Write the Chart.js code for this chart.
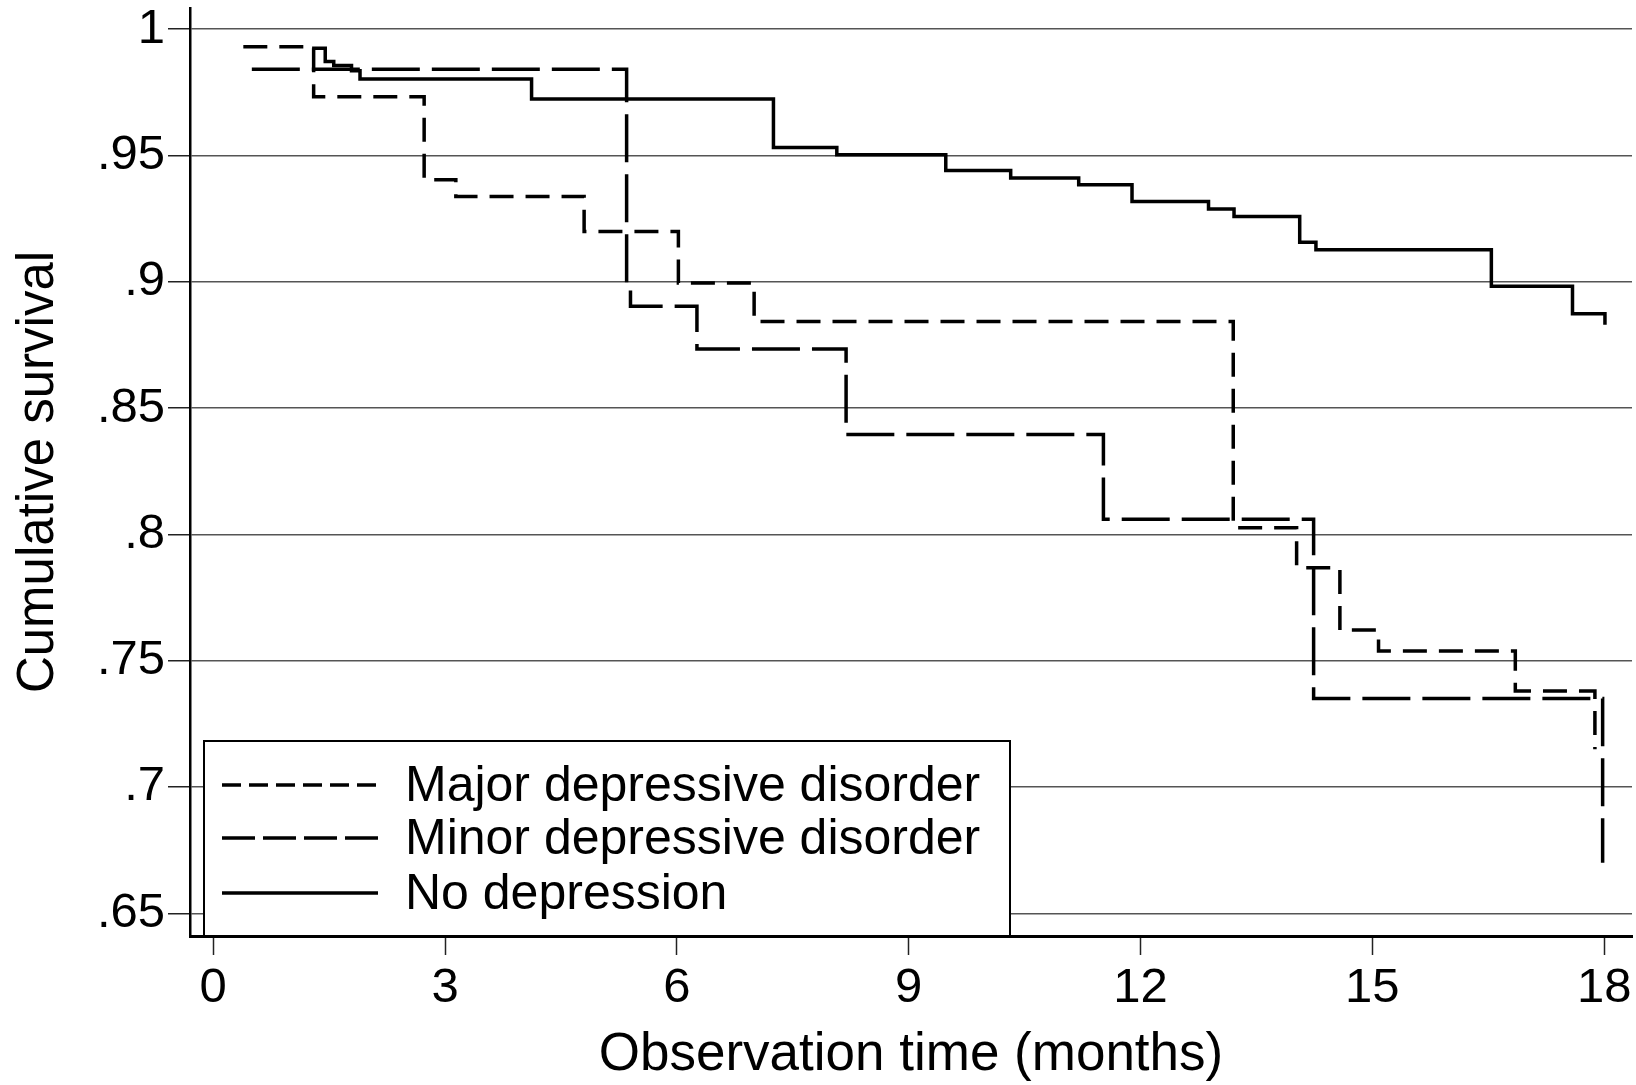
<!DOCTYPE html>
<html>
<head>
<meta charset="utf-8">
<script src="https://cdn.jsdelivr.net/npm/chart.js@4.4.1/dist/chart.umd.min.js"></script>
<style>
  html, body { margin: 0; padding: 0; background: #fff; }
</style>
</head>
<body>
<canvas id="km" width="1636" height="1085"></canvas>
<script>
var seriesNames = ['Major depressive disorder', 'Minor depressive disorder', 'No depression'];

// Kaplan-Meier steps: time (months) and survival after each drop
var majorTime = [0.39, 1.30, 2.73, 3.14, 4.80, 6.02, 7.00, 13.20, 14.02, 14.58, 15.08, 16.85, 17.88];
var majorSurv = [0.9931, 0.9733, 0.9404, 0.9338, 0.9199, 0.8995, 0.8843, 0.8026, 0.7868, 0.7621, 0.7538, 0.7380, 0.7149];

var minorTime = [0.50, 5.35, 5.40, 6.26, 8.19, 11.52, 14.24, 17.98];
var minorSurv = [0.9842, 0.8984, 0.8903, 0.8734, 0.8395, 0.8060, 0.7350, 0.6700];

var noneTime = [1.28, 1.45, 1.56, 1.79, 1.90, 4.12, 7.25, 8.07, 9.48, 10.32, 11.20, 11.89, 12.88, 13.21, 14.06, 14.27, 16.54, 17.59, 18.01];
var noneSurv = [0.9925, 0.9872, 0.9856, 0.9836, 0.9803, 0.9724, 0.9532, 0.9503, 0.9441, 0.9411, 0.9384, 0.9318, 0.9288, 0.9259, 0.9157, 0.9127, 0.8982, 0.8874, 0.8830];

var xTicks = [0, 3, 6, 9, 12, 15, 18];
var yTicks = [0.65, 0.7, 0.75, 0.8, 0.85, 0.9, 0.95, 1];
var yTickLabels = ['.65', '.7', '.75', '.8', '.85', '.9', '.95', '1'];

function pts(t, s) {
  var out = [];
  for (var i in t) out.push({x: t[i], y: s[i]});
  return out;
}

Chart.defaults.font.family = "'Liberation Sans', Arial, Helvetica, sans-serif";
Chart.defaults.color = '#000';

// legend drawn as a framed box inside the plot, bottom left
var boxLegend = {
  id: 'boxLegend',
  afterDatasetsDraw: function(chart) {
    var ctx = chart.ctx, area = chart.chartArea;
    var left = area.left + 14, w = 806, h = 195;
    var top = area.bottom - h;
    ctx.save();
    ctx.fillStyle = '#fff';
    ctx.fillRect(left, top, w, h);
    ctx.strokeStyle = '#000';
    ctx.lineWidth = 2;
    ctx.strokeRect(left, top, w, h);
    var rows = [44, 97, 152];
    chart.data.datasets.forEach(function(ds, i) {
      var y = top + rows[i];
      ctx.beginPath();
      ctx.setLineDash(ds.legendDash);
      ctx.lineWidth = 3.5;
      ctx.moveTo(left + 18, y);
      ctx.lineTo(left + 174, y);
      ctx.stroke();
      ctx.setLineDash([]);
      ctx.fillStyle = '#000';
      ctx.font = "50px 'Liberation Sans', Arial, sans-serif";
      ctx.textBaseline = 'middle';
      ctx.textAlign = 'left';
      ctx.fillText(ds.label, left + 201, y + 2);
    });
    ctx.restore();
  }
};

var chartdata = {
  datasets: [
    {
      label: seriesNames[0],
      data: pts(majorTime, majorSurv),
      borderDash: [24, 12],
      legendDash: [19, 8]
    },
    {
      label: seriesNames[1],
      data: pts(minorTime, minorSurv),
      borderDash: [48, 12],
      legendDash: [33, 8]
    },
    {
      label: seriesNames[2],
      data: pts(noneTime, noneSurv),
      borderDash: [],
      legendDash: []
    }
  ]
};
chartdata.datasets.forEach(function(ds) {
  ds.borderColor = '#000';
  ds.borderWidth = 3.5;
  ds.stepped = 'before';
  ds.pointRadius = 0;
  ds.fill = false;
  ds.borderCapStyle = 'butt';
});

var ctx = document.getElementById('km');

var KMChart = new Chart(ctx, {
  type: 'line',
  data: chartdata,
  plugins: [boxLegend],
  options: {
    responsive: false,
    animation: false,
    devicePixelRatio: 1,
    layout: { padding: { top: 8, right: 4, left: 0, bottom: 0 } },
    plugins: {
      legend: { display: false },
      tooltip: { enabled: false }
    },
    scales: {
      x: {
        type: 'linear',
        min: -0.30,
        max: 18.36,
        afterBuildTicks: function(s) { s.ticks = xTicks.map(function(v) { return {value: v}; }); },
        afterFit: function(s) { s.height = 149; s.paddingLeft = 0; s.paddingRight = 0; },
        grid: { drawOnChartArea: false, tickLength: 19, tickColor: '#222', tickWidth: 1.5 },
        border: { display: true, color: '#000', width: 3 },
        ticks: {
          color: '#000',
          font: { size: 49 },
          padding: 4,
          maxRotation: 0,
          callback: function(v) { return String(v); }
        },
        title: {
          display: true,
          text: 'Observation time (months)',
          color: '#000',
          font: { size: 53, lineHeight: 1.1 },
          padding: { top: 0, bottom: 0 }
        }
      },
      y: {
        type: 'linear',
        min: 0.641,
        max: 1.0084,
        afterBuildTicks: function(s) { s.ticks = yTicks.map(function(v) { return {value: v}; }); },
        afterFit: function(s) { s.width = 190; s.paddingTop = 0; s.paddingBottom = 0; },
        grid: { color: '#555', lineWidth: 1.5, tickLength: 22, tickColor: '#222', tickWidth: 1.5 },
        border: { display: true, color: '#000', width: 2.5 },
        ticks: {
          color: '#000',
          font: { size: 49 },
          padding: 3,
          callback: function(v) { return yTickLabels[yTicks.indexOf(v)]; }
        },
        title: {
          display: true,
          text: 'Cumulative survival',
          color: '#000',
          font: { size: 51, lineHeight: 1.1 },
          padding: { top: 11, bottom: 0 }
        }
      }
    }
  }
});
</script>
</body>
</html>
